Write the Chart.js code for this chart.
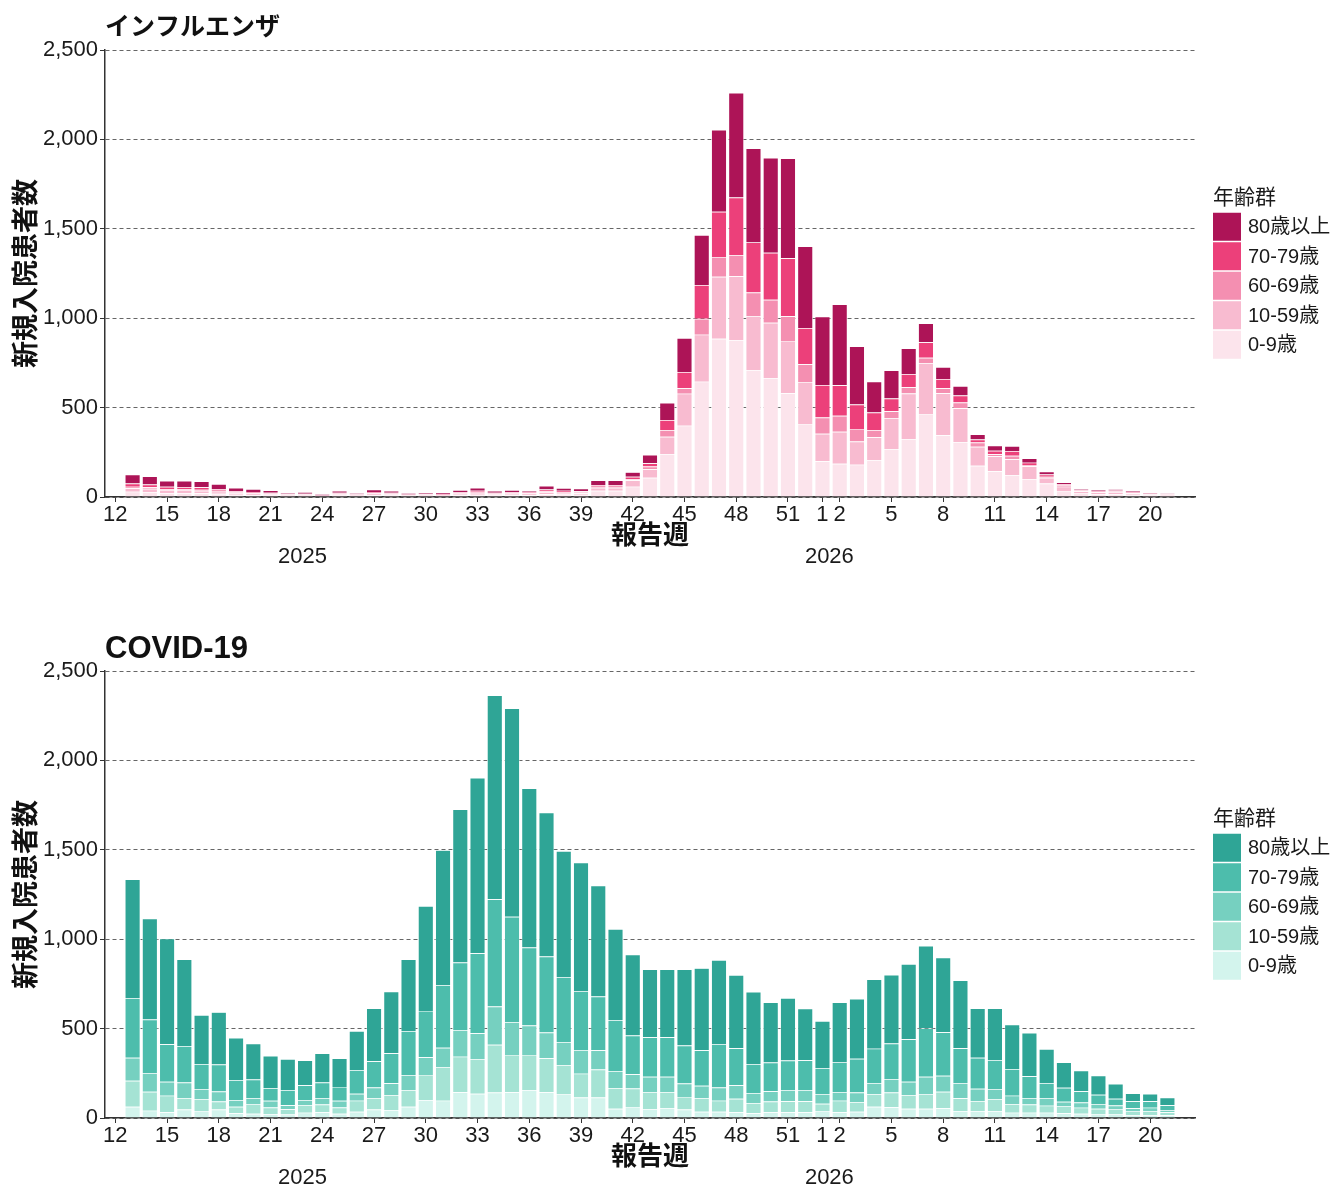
<!DOCTYPE html>
<html lang="ja">
<head>
<meta charset="utf-8">
<title>新規入院患者数</title>
<script src="https://cdn.jsdelivr.net/npm/chart.js@4.4.1/dist/chart.umd.min.js"></script>
<style>
  html, body { margin: 0; padding: 0; background: #fff; overflow: hidden; }
  .panel { position: absolute; left: 0; width: 1335px; height: 621px; }
</style>
</head>
<body>
<div class="panel" style="top:0"><canvas id="flu-chart" width="1335" height="621"></canvas></div>
<div class="panel" style="top:621px"><canvas id="covid-chart" width="1335" height="621"></canvas></div>
<script>
// report weeks: 2025 w13-w52, then 2026 w1-w21
const weeks = [13, 14, 15, 16, 17, 18, 19, 20, 21, 22, 23, 24, 25, 26, 27, 28, 29, 30, 31, 32,
    33, 34, 35, 36, 37, 38, 39, 40, 41, 42, 43, 44, 45, 46, 47, 48, 49, 50, 51, 52,
    1, 2, 3, 4, 5, 6, 7, 8, 9, 10, 11, 12, 13, 14, 15, 16, 17, 18, 19, 20, 21];
const ticks2025 = [12, 15, 18, 21, 24, 27, 30, 33, 36, 39, 42, 45, 48, 51];
const ticks2026 = [1, 2, 5, 8, 11, 14, 17, 20];
const years = ["2025", "2026"];
const ageGroups = ["0-9歳", "10-59歳", "60-69歳", "70-79歳", "80歳以上"];

// インフルエンザ
const flu0_9 = [30, 28, 22, 22, 21, 18, 13, 11, 9, 7, 7, 3, 9, 6, 11, 9, 5, 7, 6, 10,
    13, 9, 10, 11, 15, 14, 12, 35, 35, 58, 108, 240, 399, 645, 885, 878, 710, 665, 580, 406,
    200, 186, 181, 207, 268, 324, 462, 345, 308, 175, 144, 123, 101, 75, 34, 20, 16, 17, 12, 9, 7];
const flu10_59 = [19, 18, 15, 15, 14, 12, 9, 8, 7, 5, 5, 3, 7, 4, 8, 7, 4, 5, 5, 8,
    10, 7, 8, 8, 12, 10, 9, 17, 17, 35, 47, 97, 179, 263, 347, 356, 302, 309, 293, 235,
    154, 179, 129, 127, 173, 255, 287, 235, 188, 106, 84, 88, 71, 32, 24, 12, 10, 11, 9, 6, 5];
const flu60_69 = [9, 8, 7, 7, 6, 5, 4, 3, 3, 2, 2, 1, 3, 2, 3, 3, 2, 2, 2, 3,
    4, 3, 3, 3, 5, 4, 4, 6, 6, 7, 15, 37, 30, 89, 108, 119, 132, 129, 138, 101,
    91, 89, 71, 41, 39, 35, 30, 28, 32, 24, 11, 20, 7, 6, 6, 4, 3, 4, 3, 2, 2];
const flu70_79 = [17, 16, 13, 12, 13, 10, 7, 6, 5, 3, 4, 2, 5, 3, 6, 5, 3, 4, 4, 6,
    8, 5, 6, 5, 10, 7, 7, 9, 9, 13, 19, 56, 91, 188, 255, 322, 280, 263, 324, 203,
    181, 171, 136, 97, 71, 73, 86, 52, 39, 17, 19, 26, 13, 13, 9, 5, 5, 5, 4, 3, 3];
const flu80plus = [50, 46, 34, 35, 34, 28, 19, 17, 13, 4, 10, 8, 10, 7, 13, 11, 8, 8, 7, 12,
    17, 11, 12, 8, 21, 15, 15, 26, 26, 26, 47, 97, 190, 280, 459, 585, 526, 531, 559, 457,
    383, 453, 326, 173, 157, 145, 106, 67, 54, 28, 30, 28, 24, 17, 9, 6, 5, 6, 6, 4, 3];

// COVID-19
const cov0_9 = [63, 41, 32, 47, 37, 47, 26, 24, 22, 19, 30, 32, 24, 35, 47, 45, 63, 101, 97, 144,
    136, 142, 144, 157, 144, 132, 114, 114, 52, 62, 50, 56, 47, 35, 35, 32, 26, 32, 32, 32,
    37, 32, 35, 63, 60, 52, 52, 54, 39, 39, 39, 30, 30, 30, 26, 24, 20, 20, 17, 17, 15];
const cov10_59 = [145, 106, 93, 65, 69, 45, 37, 52, 37, 30, 43, 43, 35, 62, 65, 84, 93, 140, 188, 199,
    194, 267, 209, 196, 190, 164, 134, 157, 116, 103, 95, 89, 71, 76, 62, 75, 58, 60, 62, 62,
    43, 65, 54, 71, 82, 76, 80, 93, 71, 56, 67, 48, 45, 39, 39, 34, 32, 28, 20, 22, 17];
const cov60_69 = [129, 104, 78, 86, 54, 56, 37, 35, 37, 22, 28, 37, 37, 39, 58, 65, 84, 99, 108, 149,
    144, 214, 183, 164, 144, 129, 132, 108, 95, 80, 86, 86, 75, 69, 73, 76, 56, 58, 63, 63,
    52, 48, 54, 62, 76, 75, 99, 89, 86, 69, 54, 47, 37, 43, 26, 28, 24, 22, 17, 19, 13];
const cov70_79 = [334, 300, 209, 205, 142, 151, 112, 104, 71, 86, 82, 86, 78, 132, 147, 168, 246, 259, 350, 378,
    447, 600, 589, 436, 425, 363, 328, 300, 285, 216, 220, 220, 212, 199, 244, 207, 162, 160, 164, 166,
    147, 166, 188, 192, 199, 237, 270, 244, 194, 173, 164, 149, 121, 84, 78, 63, 54, 37, 39, 35, 26];
const cov80plus = [664, 565, 591, 485, 274, 293, 237, 201, 181, 173, 140, 164, 160, 218, 296, 345, 401, 587, 755, 856,
    982, 1141, 1167, 891, 805, 705, 720, 621, 509, 453, 380, 380, 427, 459, 470, 410, 404, 337, 350, 289,
    263, 336, 336, 388, 384, 421, 462, 418, 380, 276, 289, 248, 244, 190, 142, 117, 108, 84, 45, 43, 43];

const fluColors = ["#FCE4EC", "#F8BBD0", "#F48FB1", "#EC407A", "#AD1457"];
const covidColors = ["#D3F4ED", "#A5E3D4", "#76D0C0", "#4DBDAC", "#2FA596"];

const FONT = '"Liberation Sans", Arial, "Noto Sans CJK JP", sans-serif';
Chart.defaults.font.family = FONT;
Chart.defaults.color = "#1a1a1a";

// x positions: bar i sits at value i; 2025 weeks count from weeks[0], 2026 weeks after the 52nd
const n2025 = weeks.indexOf(1);
const tickValues = ticks2025.map(w => w - weeks[0]).concat(ticks2026.map(w => n2025 + w - 1));
const tickLabels = ticks2025.concat(ticks2026).map(String);

const yearLabels = {
    id: "yearLabels",
    afterDraw(chart) {
        const { ctx, chartArea } = chart;
        const x = chart.scales.x;
        const pos = [9.85, n2025 + 0.4];
        ctx.save();
        ctx.font = "22px " + FONT;
        ctx.fillStyle = "#1a1a1a";
        ctx.textAlign = "center";
        ctx.textBaseline = "middle";
        years.forEach((yr, i) => ctx.fillText(yr, x.getPixelForValue(pos[i]), chartArea.bottom + 60));
        ctx.restore();
    }
};

const ageLegend = {
    id: "ageLegend",
    afterDraw(chart) {
        const { ctx, chartArea } = chart;
        const items = chart.data.datasets.slice().reverse();
        const rowH = 29.5, box = 28;
        const left = chartArea.right + 18;
        const top = (chartArea.top + chartArea.bottom) / 2 - items.length * rowH / 2 + 13;
        ctx.save();
        ctx.fillStyle = "#1a1a1a";
        ctx.textBaseline = "middle";
        ctx.font = "21px " + FONT;
        ctx.fillText("年齢群", left, top - 15);
        ctx.font = "20px " + FONT;
        items.forEach((ds, i) => {
            const y = top + i * rowH;
            ctx.fillStyle = ds.backgroundColor;
            ctx.fillRect(left, y, box, box);
            ctx.fillStyle = "#1a1a1a";
            ctx.fillText(ds.label, left + box + 7, y + box / 2 + 1);
        });
        ctx.restore();
    }
};

function makeChart(id, title, titleSize, series, colors) {
    const ctx = document.getElementById(id).getContext("2d");
    return new Chart(ctx, {
        type: "bar",
        data: {
            datasets: series.map((values, k) => ({
                label: ageGroups[k],
                data: values.map((v, i) => ({ x: i, y: v })),
                backgroundColor: colors[k],
                borderColor: "rgba(255,255,255,0.75)",
                borderWidth: { top: 0.7, left: 0.7, right: 0.7, bottom: 0 },
                borderSkipped: false,
                categoryPercentage: 0.9,
                barPercentage: 1
            }))
        },
        options: {
            responsive: false,
            animation: false,
            layout: { padding: { left: 0, right: 140, top: 0, bottom: 0 } },
            plugins: {
                legend: { display: false },
                tooltip: { enabled: false },
                title: {
                    display: true,
                    text: title,
                    align: "start",
                    fullSize: false,
                    color: "#111",
                    font: { size: titleSize, weight: "bold" },
                    padding: { top: 28 - 0.6 * titleSize, bottom: 22 - 0.6 * titleSize }
                }
            },
            scales: {
                x: {
                    type: "linear",
                    stacked: true,
                    offset: false,
                    min: -1.6,
                    max: weeks.length + 0.6,
                    afterBuildTicks: scale => { scale.ticks = tickValues.map(v => ({ value: v })); },
                    afterFit: scale => { scale.height = 124; },
                    ticks: {
                        autoSkip: false,
                        maxRotation: 0,
                        padding: 0,
                        font: { size: 22 },
                        callback: (value, index) => tickLabels[index]
                    },
                    grid: { offset: false, drawOnChartArea: false, drawTicks: true, tickLength: 5, tickColor: "#333" },
                    border: { display: true, color: "#333", width: 1.5 },
                    title: {
                        display: true,
                        text: "報告週",
                        color: "#111",
                        font: { size: 26, weight: "bold" },
                        padding: { top: 0, bottom: 69 }
                    }
                },
                y: {
                    stacked: true,
                    min: 0,
                    max: 2500,
                    afterFit: scale => { scale.width = 105; },
                    ticks: {
                        stepSize: 500,
                        padding: 2,
                        font: { size: 22 },
                        callback: v => v.toLocaleString("en-US")
                    },
                    grid: { color: "#666", lineWidth: 1, tickLength: 5, tickColor: "#333" },
                    border: { display: true, color: "#333", width: 1.5, dash: [4, 3] },
                    title: {
                        display: true,
                        text: "新規入院患者数",
                        color: "#111",
                        font: { size: 27, weight: "bold" },
                        padding: { top: 11, bottom: 0 }
                    }
                }
            }
        },
        plugins: [yearLabels, ageLegend]
    });
}

makeChart("flu-chart", "インフルエンザ", 25, [flu0_9, flu10_59, flu60_69, flu70_79, flu80plus], fluColors);
makeChart("covid-chart", "COVID-19", 31, [cov0_9, cov10_59, cov60_69, cov70_79, cov80plus], covidColors);
</script>
</body>
</html>
